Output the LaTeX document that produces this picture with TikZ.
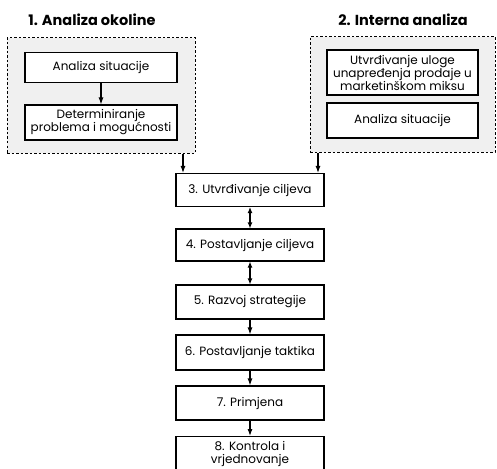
\documentclass[tikz,border=0pt]{standalone}
\usepackage{fontspec}
\setmainfont{Poppins}
\usetikzlibrary{arrows.meta}
\begin{document}
\begin{tikzpicture}[x=1pt,y=-1pt,
  box/.style={draw=black,line width=1.1pt,fill=white,align=center,font=\fontsize{12}{13}\selectfont,inner sep=0pt},
  grp/.style={draw=black,dashed,dash pattern=on 2.5pt off 2pt,line width=1pt,fill=gray!12},
  ttl/.style={font=\bfseries\fontsize{14.5}{16}\selectfont},
  arr/.style={line width=1.1pt,-{Latex[length=7pt,width=5pt]}},
  darr/.style={line width=1.1pt,{Latex[length=6pt,width=5pt]}-{Latex[length=6pt,width=5pt]}}]
\useasboundingbox (0,0) rectangle (497,468);
\clip (0,0) rectangle (497,468);
\fill[white] (0,0) rectangle (497,468);
% titles
\node[ttl] (t1) at (92,20) {1. Analiza okoline};
\node[ttl] (t2) at (403,20) {2. Interna analiza};
% group boxes
\node[grp,minimum width=188,minimum height=115] (g1) at (101,95.5) {};
\node[grp,minimum width=185,minimum height=115] (g2) at (402.5,94.5) {};
% left inner
\node[box,minimum width=152,minimum height=30] (a1) at (101,67.5) {Analiza situacije};
\node[box,minimum width=152,minimum height=35] (a2) at (101,122.5) {Determiniranje\\problema i mogućnosti};
% right inner
\node[box,minimum width=151,minimum height=45] (b1) at (402.5,72.5) {Utvrđivanje uloge\\unapređenja prodaje u\\marketinškom miksu};
\node[box,minimum width=151,minimum height=35] (b2) at (402.5,120.5) {Analiza situacije};
% main column
\node[box,minimum width=148,minimum height=33] (s3) at (250,190) {3. Utvrđivanje ciljeva};
\node[box,minimum width=148,minimum height=32] (s4) at (250,245) {4. Postavljanje ciljeva};
\node[box,minimum width=148,minimum height=34] (s5) at (250,302) {5. Razvoj strategije};
\node[box,minimum width=148,minimum height=35] (s6) at (250,352.5) {6. Postavljanje taktika};
\node[box,minimum width=148,minimum height=34] (s7) at (250,403) {7. Primjena};
\node[box,minimum width=148,minimum height=34,anchor=north] (s8) at (250,436) {8. Kontrola i\\vrjednovanje};
% connectors
\draw[arr] (g1.south -| 183,0) -- (s3.north -| 183,0);
\draw[arr] (g2.south -| 318,0) -- (s3.north -| 318,0);
\draw[arr] (a1) -- (a2);
\draw[darr] (s3) -- (s4);
\draw[darr] (s4) -- (s5);
\draw[arr] (s5) -- (s6);
\draw[arr] (s6) -- (s7);
\draw[arr] (s7) -- (s8);
\end{tikzpicture}
\end{document}
